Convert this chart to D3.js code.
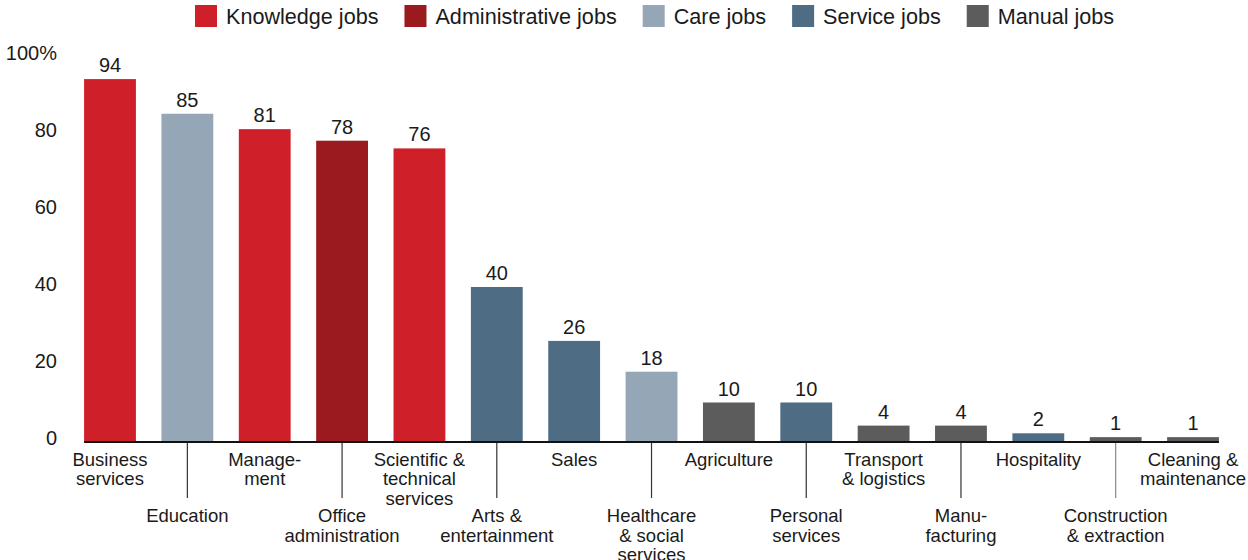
<!DOCTYPE html>
<html>
<head>
<meta charset="utf-8">
<script src="https://cdn.jsdelivr.net/npm/d3@7"></script>
<style>
  html, body { margin: 0; padding: 0; background: #fff; }
  svg { display: block; font-family: "Liberation Sans", Arial, sans-serif; }
</style>
</head>
<body>
<svg id="chart" width="1248" height="560"></svg>
<script>
// ---- data ----
const categories = [
  "Business\nservices", "Education", "Manage-\nment", "Office\nadministration",
  "Scientific &\ntechnical\nservices", "Arts &\nentertainment", "Sales",
  "Healthcare\n& social\nservices", "Agriculture", "Personal\nservices",
  "Transport\n& logistics", "Manu-\nfacturing", "Hospitality",
  "Construction\n& extraction", "Cleaning &\nmaintenance"
];
const values = [94, 85, 81, 78, 76, 40, 26, 18, 10, 10, 4, 4, 2, 1, 1];
const groups = [
  "Knowledge", "Care", "Knowledge", "Administrative", "Knowledge", "Service",
  "Service", "Care", "Manual", "Service", "Manual", "Manual", "Service",
  "Manual", "Manual"
];
const groupKeys = ["Knowledge", "Administrative", "Care", "Service", "Manual"];
const legendLabels = ["Knowledge jobs", "Administrative jobs", "Care jobs", "Service jobs", "Manual jobs"];
const groupColors = ["#cf2029", "#9a1a20", "#95a6b6", "#4f6c85", "#5c5c5c"];
const yTicks = [0, 20, 40, 60, 80, 100];
const yTickLabels = ["0", "20", "40", "60", "80", "100%"];

// ---- setup ----
const svg = d3.select("#chart");
const textColor = "#1a1a1a";

const x = d3.scaleBand()
  .domain(categories)
  .range([71.32, 1231.72])
  .paddingInner(0.33)
  .paddingOuter(0.165);

const y = d3.scaleLinear().domain([0, 100]).range([441, 56]);

const color = d3.scaleOrdinal().domain(groupKeys).range(groupColors);

const data = categories.map((c, i) => ({ c, v: values[i], g: groups[i], i }));

// ---- bars ----
svg.append("g").selectAll("rect")
  .data(data)
  .join("rect")
  .attr("x", d => x(d.c))
  .attr("y", d => y(d.v))
  .attr("width", x.bandwidth())
  .attr("height", d => y(0) - y(d.v))
  .attr("fill", d => color(d.g));

// ---- value labels ----
svg.append("g").selectAll("text")
  .data(data)
  .join("text")
  .attr("x", d => x(d.c) + x.bandwidth() / 2)
  .attr("y", d => y(d.v) - 7)
  .attr("text-anchor", "middle")
  .attr("font-size", 20)
  .attr("fill", textColor)
  .text(d => d.v);

// ---- y axis labels ----
svg.append("g").selectAll("text")
  .data(yTicks)
  .join("text")
  .attr("x", 57)
  .attr("y", d => y(d) + 3.5)
  .attr("text-anchor", "end")
  .attr("font-size", 20)
  .attr("fill", textColor)
  .text((d, i) => yTickLabels[i]);

// ---- x axis line ----
svg.append("line")
  .attr("x1", x(categories[0]))
  .attr("x2", x(categories[categories.length - 1]) + x.bandwidth())
  .attr("y1", y(0) + 1)
  .attr("y2", y(0) + 1)
  .attr("stroke", "#111")
  .attr("stroke-width", 2);

// ---- category labels ----
const catG = svg.append("g");
data.forEach(d => {
  const cx = x(d.c) + x.bandwidth() / 2;
  const lower = d.i % 2 === 1;
  if (lower) {
    catG.append("line")
      .attr("x1", cx).attr("x2", cx)
      .attr("y1", y(0) + 2).attr("y2", 498)
      .attr("stroke", d.i === 13 ? "#888" : "#333")
      .attr("stroke-width", 1.2);
  }
  const baseY = lower ? 522 : 465.5;
  const t = catG.append("text")
    .attr("text-anchor", "middle")
    .attr("font-size", 18.5)
    .attr("fill", textColor);
  d.c.split("\n").forEach((line, k) => {
    t.append("tspan").attr("x", cx).attr("y", baseY + k * 19.5).text(line);
  });
});

// ---- legend ----
const legend = svg.append("g");
let lx = 195;
legendLabels.forEach((lab, i) => {
  legend.append("rect")
    .attr("x", lx).attr("y", 5)
    .attr("width", 22).attr("height", 22)
    .attr("fill", groupColors[i]);
  const t = legend.append("text")
    .attr("x", lx + 31).attr("y", 23.5)
    .attr("font-size", 21.6)
    .attr("fill", textColor)
    .text(lab);
  const w = t.node().getComputedTextLength();
  lx = lx + 31 + w + 26;
});
</script>
</body>
</html>
